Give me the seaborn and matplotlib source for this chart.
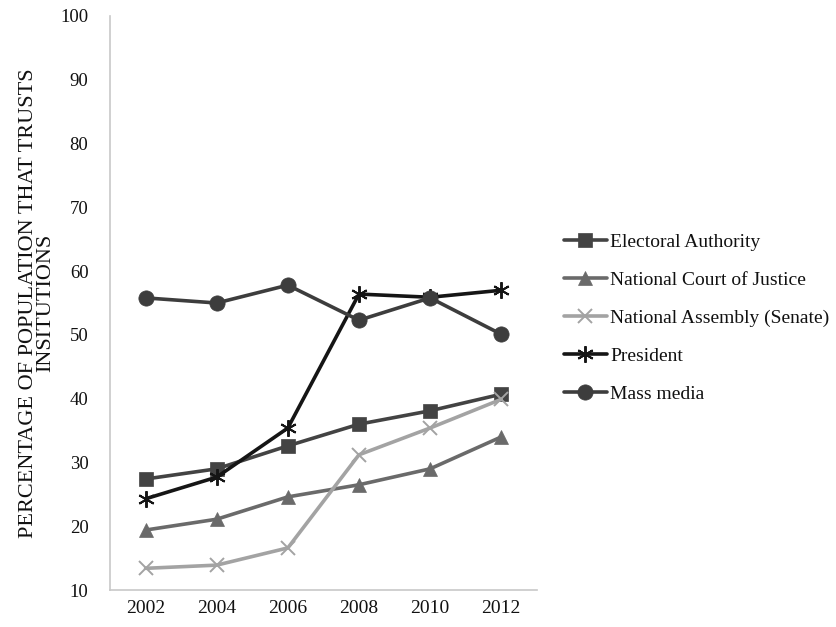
import matplotlib
matplotlib.use("Agg")
import matplotlib.pyplot as plt
import seaborn as sns
import pandas as pd

years = ["2002", "2004", "2006", "2008", "2010", "2012"]
electoral_authority = [27.4, 29.0, 32.6, 36.0, 38.1, 40.7]
national_court = [19.4, 21.1, 24.6, 26.5, 29.0, 34.0]
national_assembly = [13.4, 13.9, 16.6, 31.2, 35.4, 39.9]
president = [24.3, 27.7, 35.4, 56.4, 55.9, 57.0]
mass_media = [55.8, 55.0, 57.8, 52.3, 55.8, 50.1]

series = [
    ("Electoral Authority", electoral_authority, "#434343", "s", 10),
    ("National Court of Justice", national_court, "#6a6a6a", "^", 10),
    ("National Assembly (Senate)", national_assembly, "#a3a3a3", "x", 10),
    ("President", president, "#151515", (6, 2, 0), 12),
    ("Mass media", mass_media, "#3d3d3d", "o", 11),
]

sns.set_theme(style="white")
plt.rcParams["font.family"] = ["Liberation Serif", "DejaVu Serif"]

fig = plt.figure(figsize=(8.36, 6.27), dpi=100)
ax = fig.add_axes([0.1316, 0.059, 0.5105, 0.9155])

for name, vals, color, marker, ms in series:
    df = pd.DataFrame({"year": years, "value": vals})
    thin = marker == "x" or isinstance(marker, tuple)
    sns.lineplot(data=df, x="year", y="value", ax=ax, color=color,
                 marker=marker, markersize=ms, linewidth=2.6,
                 markeredgecolor=color, markeredgewidth=1.4 if thin else 0.5,
                 label=name, sort=False)

ax.set_xlim(-0.5, 5.5)
ax.set_ylim(10, 100)
ax.set_yticks(range(10, 101, 10))
ax.set_xlabel("")
ax.set_ylabel("PERCENTAGE OF POPULATION THAT TRUSTS\nINSITUTIONS", fontsize=16,
              color="#111111", linespacing=0.85)
ax.yaxis.set_label_coords(-0.128, 0.5)
ax.tick_params(axis="y", labelsize=13.5, colors="#111111", length=0, pad=15.5)
ax.tick_params(axis="x", labelsize=14, colors="#111111", length=0, pad=7)
for s in ["top", "right"]:
    ax.spines[s].set_visible(False)
for s in ["left", "bottom"]:
    ax.spines[s].set_color("#c8c8c8")
    ax.spines[s].set_linewidth(1.2)
ax.grid(False)

leg = ax.legend(loc="center left", bbox_to_anchor=(1.045, 0.474), frameon=False,
                fontsize=14, handlelength=2.2, handletextpad=0.2,
                labelspacing=1.05, borderaxespad=0)
for t in leg.get_texts():
    t.set_color("#111111")

fig.savefig("out.png", dpi=100)
